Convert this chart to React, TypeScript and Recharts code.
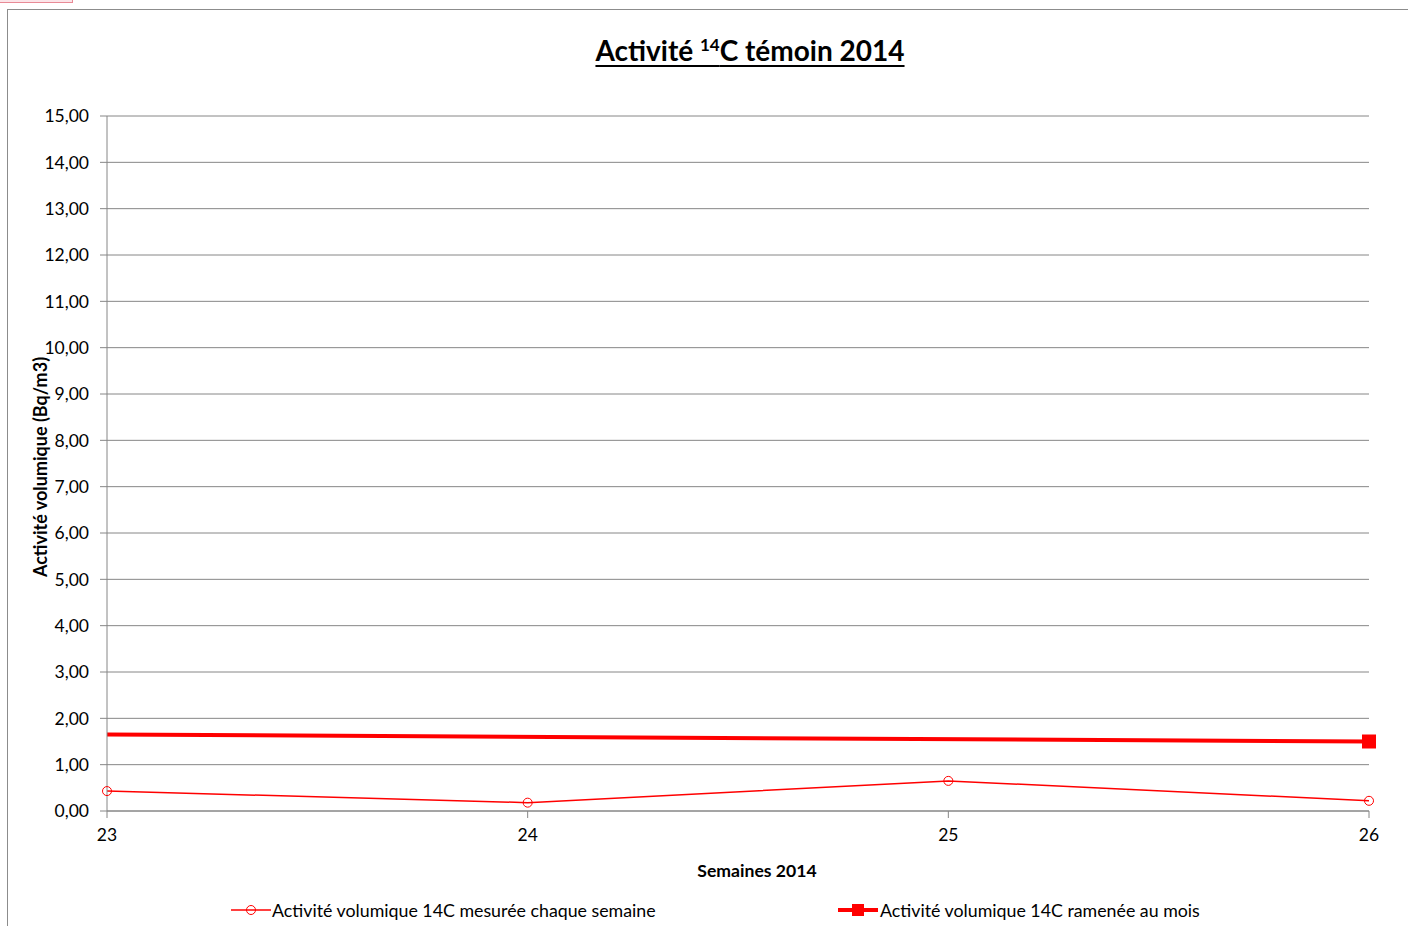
import * as React from 'react';
import { LineChart, Line, XAxis, YAxis, CartesianGrid } from 'recharts';

// semaines 2014
const weeks = [23, 24, 25, 26];
// activité volumique 14C mesurée chaque semaine (Bq/m3)
const weeklyValues = [0.43, 0.18, 0.65, 0.22];
// activité volumique 14C ramenée au mois (Bq/m3)
const monthlyValues: (number | null)[] = [1.65, null, null, 1.5];
const yTicks = [0, 1, 2, 3, 4, 5, 6, 7, 8, 9, 10, 11, 12, 13, 14, 15];

const data = weeks.map((w, i) => ({ week: w, weekly: weeklyValues[i], monthly: monthlyValues[i] }));

const FONT = 'Lato, "Liberation Sans", sans-serif';
const RED = '#ff0000';
const GREY = '#868686';

const SquareDot = (props: any) => {
    const { cx, cy, index } = props;
    if (index !== weeks.length - 1 || cy == null) return <g key={'sq' + index} />;
    return <rect key={'sq' + index} x={cx - 7} y={cy - 7} width={14} height={14} fill={RED} />;
};

const fmt = (v: number) => v.toFixed(2).replace('.', ',');

export default function App() {
    return (
        <div style={{ position: 'absolute', left: 0, top: 0, width: 1408, height: 926, overflow: 'hidden', background: '#fff', fontFamily: FONT }}>
            <div style={{ position: 'absolute', left: -1, top: -1, width: 72, height: 2, border: '1px solid #e88a96', background: '#fbe4e8' }} />
            <div style={{ position: 'absolute', left: 7, top: 9, width: 1500, height: 1000, border: '1px solid #8c8c8c' }} />
            <div style={{ position: 'absolute', left: 0, top: 0 }}>
                <LineChart width={1408} height={926} data={data} margin={{ top: 116, right: 39, left: 0, bottom: 75 }}>
                    <CartesianGrid vertical={false} stroke={GREY} strokeWidth={1} />
                    <XAxis
                        dataKey="week"
                        type="number"
                        domain={[23, 26]}
                        ticks={weeks}
                        height={40}
                        tickSize={7}
                        tickMargin={11}
                        stroke={GREY}
                        tick={{ fill: '#000', fontSize: 17.5, fontFamily: FONT }}
                    />
                    <YAxis
                        type="number"
                        domain={[0, 15]}
                        ticks={yTicks}
                        width={107}
                        tickSize={7}
                        tickMargin={11}
                        stroke={GREY}
                        tickFormatter={fmt}
                        tick={{ fill: '#000', fontSize: 17.5, fontFamily: FONT }}
                    />
                    <Line
                        dataKey="weekly"
                        stroke={RED}
                        strokeWidth={1.5}
                        dot={{ r: 4.5, stroke: RED, strokeWidth: 1, fill: 'none' }}
                        isAnimationActive={false}
                    />
                    <Line
                        dataKey="monthly"
                        stroke={RED}
                        strokeWidth={4}
                        connectNulls
                        dot={<SquareDot />}
                        isAnimationActive={false}
                    />
                </LineChart>
            </div>
            <div style={{ position: 'absolute', left: 450, top: 36, width: 600, textAlign: 'center', fontSize: 28, fontWeight: 'bold', lineHeight: '28px', textDecoration: 'underline', textDecorationThickness: 2, textUnderlineOffset: 4 }}>
                Activité <span style={{ fontSize: 17, position: 'relative', top: -10 }}>14</span>C témoin 2014
            </div>
            <div style={{ position: 'absolute', left: -160, top: 457, width: 400, height: 20, lineHeight: '20px', textAlign: 'center', fontSize: 18, fontWeight: 'bold', transform: 'rotate(-90deg)' }}>
                Activité volumique (Bq/m3)
            </div>
            <div style={{ position: 'absolute', left: 557, top: 861, width: 400, lineHeight: '20px', textAlign: 'center', fontSize: 17.6, fontWeight: 'bold' }}>
                Semaines 2014
            </div>
            <div style={{ position: 'absolute', left: 231, top: 900, height: 20, display: 'flex', alignItems: 'center', fontSize: 17.8 }}>
                <svg width={41} height={20}>
                    <line x1={0} y1={10} x2={40} y2={10} stroke={RED} strokeWidth={1.5} />
                    <circle cx={20} cy={10} r={4.5} stroke={RED} fill="none" />
                </svg>
                <span>Activité volumique 14C mesurée chaque semaine</span>
            </div>
            <div style={{ position: 'absolute', left: 838, top: 900, height: 20, display: 'flex', alignItems: 'center', fontSize: 17.8 }}>
                <svg width={42} height={20}>
                    <line x1={0} y1={10} x2={40} y2={10} stroke={RED} strokeWidth={4} />
                    <rect x={14} y={4} width={12} height={12} fill={RED} />
                </svg>
                <span>Activité volumique 14C ramenée au mois</span>
            </div>
        </div>
    );
}
